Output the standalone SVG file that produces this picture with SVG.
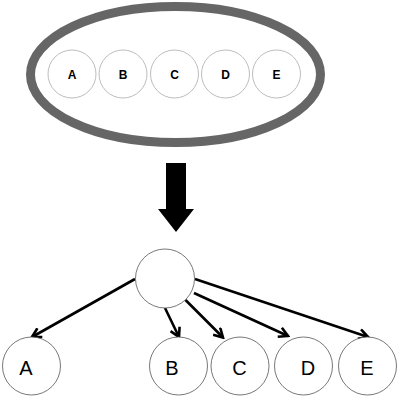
<svg xmlns="http://www.w3.org/2000/svg" width="403" height="402" viewBox="0 0 403 402">
<style>
.small{fill:#fff;stroke:#bdbdbd;stroke-width:1}
.small-t{font-family:"Liberation Sans",Arial,sans-serif;font-size:12px;font-weight:bold;fill:#000;text-anchor:middle}
.node{fill:#fff;stroke:#555;stroke-width:0.8}
.node-t{font-family:"Liberation Sans",Arial,sans-serif;font-size:20px;fill:#000;text-anchor:middle}
.edge{stroke:#000;stroke-width:2.6;fill:none;marker-end:url(#ah)}
</style>
<defs>
<marker id="ah" markerUnits="userSpaceOnUse" viewBox="0 0 12 12" refX="10" refY="6" markerWidth="12" markerHeight="12" orient="auto">
<path d="M1,1 L10,6 L1,11" fill="none" stroke="#000" stroke-width="2.6"/>
</marker>
</defs>
<rect width="403" height="402" fill="#fff"/>
<g id="group">
<ellipse cx="175.5" cy="74.5" rx="145" ry="68" fill="#fff" stroke="#666" stroke-width="9"/>
</g>
<g id="top-A"><circle class="small" cx="72" cy="74" r="24"/><text class="small-t" x="72" y="78.5">A</text></g>
<g id="top-B"><circle class="small" cx="123" cy="74" r="24"/><text class="small-t" x="123" y="78.5">B</text></g>
<g id="top-C"><circle class="small" cx="174.5" cy="74" r="24"/><text class="small-t" x="174.5" y="78.5">C</text></g>
<g id="top-D"><circle class="small" cx="225.5" cy="74" r="24"/><text class="small-t" x="225.5" y="78.5">D</text></g>
<g id="top-E"><circle class="small" cx="276.5" cy="74" r="24"/><text class="small-t" x="276.5" y="78.5">E</text></g>
<g id="big-arrow">
<polygon points="166,163 186,163 186,209 194,209 176,232 158,209 166,209" fill="#000"/>
</g>
<g id="connectors">
<line class="edge" x1="135" y1="279" x2="32" y2="337"/>
<line class="edge" x1="165" y1="308" x2="179" y2="337"/>
<line class="edge" x1="185.5" y1="300" x2="223" y2="337.5"/>
<line class="edge" x1="194" y1="293" x2="288" y2="336"/>
<line class="edge" x1="195" y1="279" x2="368" y2="337"/>
</g>
<g id="root"><circle class="node" cx="165" cy="278.5" r="29.5"/></g>
<g id="A"><circle class="node" cx="31.5" cy="366" r="29"/><text class="node-t" x="26" y="375">A</text></g>
<g id="B"><circle class="node" cx="178.5" cy="366" r="29"/><text class="node-t" x="172" y="375">B</text></g>
<g id="C"><circle class="node" cx="240" cy="366" r="29"/><text class="node-t" x="239.5" y="375">C</text></g>
<g id="D"><circle class="node" cx="303.5" cy="366" r="29"/><text class="node-t" x="308" y="375">D</text></g>
<g id="E"><circle class="node" cx="367.5" cy="366" r="29"/><text class="node-t" x="367" y="375">E</text></g>
</svg>
